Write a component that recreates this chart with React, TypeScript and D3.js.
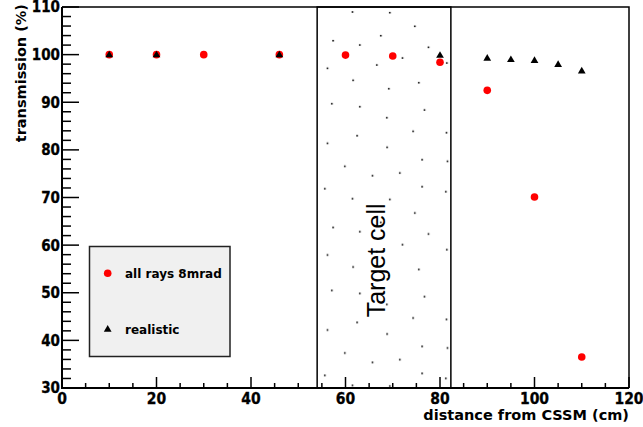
import React, { useRef, useEffect } from 'react';
import * as d3 from 'd3';

// all rays 8mrad (red circles)
const allRaysX = [10, 20, 30, 46, 60, 70, 80, 90, 100, 110];
const allRaysY = [100, 100, 100, 100, 99.9, 99.7, 98.4, 92.5, 70.1, 36.5];

// realistic (black triangles)
const realisticX = [10, 20, 46, 80, 90, 95, 100, 105, 110];
const realisticY = [100, 100, 100, 99.9, 99.3, 99.0, 98.8, 98.0, 96.6];

const xTicks = [0, 20, 40, 60, 80, 100, 120];
const yTicks = [30, 40, 50, 60, 70, 80, 90, 100, 110];
const targetCell = [54, 82.3];

// dot fill pattern of the target cell, one tile (px)
const patternDots: [number, number][] = [
  [35.4, 5], [72.7, 5.7], [97.7, 19.3], [63.7, 28.7], [16, 33.7], [42.7, 38],
  [111.4, 40.3], [85.4, 51], [129.7, 56], [59.7, 58], [10.4, 61.3], [36, 73.3],
  [101.7, 75.7], [71.7, 81.7], [14.7, 96.7], [42.7, 99.7], [107.4, 103],
  [69.7, 110.7], [96, 124.3], [129.4, 125.7], [40, 128.7], [10.4, 136.3],
  [70, 140.3], [105, 152.7], [130.4, 154.3], [27.7, 159.3], [82.7, 166],
  [55.4, 168.7], [105, 179.7], [7.7, 181.7], [128.7, 184.7],
];

const W = 643;
const H = 427;
const FONT = "'DejaVu Sans', sans-serif";
const TICK_FONT = "'DejaVu Sans Condensed', 'DejaVu Sans', sans-serif";

export default function App() {
  const svgRef = useRef<SVGSVGElement>(null);

  useEffect(() => {
    const svg = d3.select(svgRef.current);
    svg.selectAll('*').remove();

    const x = d3.scaleLinear().domain([0, 120]).range([62, 629]);
    const y = d3.scaleLinear().domain([30, 110]).range([388, 7]);

    svg.append('rect').attr('width', W).attr('height', H).attr('fill', 'white');

    // pattern for target cell
    const x0 = x(targetCell[0]);
    const x1 = x(targetCell[1]);
    const pat = svg.append('defs').append('pattern')
      .attr('id', 'dots')
      .attr('patternUnits', 'userSpaceOnUse')
      .attr('x', x0).attr('y', y(110))
      .attr('width', 200).attr('height', 186.7);
    pat.selectAll('rect')
      .data(patternDots)
      .join('rect')
      .attr('x', d => d[0] - 0.8)
      .attr('y', d => d[1] - 0.8)
      .attr('width', 1.6).attr('height', 1.6)
      .attr('fill', '#000');

    svg.append('rect')
      .attr('x', x0).attr('y', y(110))
      .attr('width', x1 - x0).attr('height', y(30) - y(110))
      .attr('fill', 'url(#dots)')
      .attr('stroke', '#000')
      .attr('stroke-width', 1.5);

    svg.append('text')
      .attr('transform', `translate(385,${y(56.8)}) rotate(-90)`)
      .attr('text-anchor', 'middle')
      .attr('font-family', "'Liberation Sans', Arial, sans-serif")
      .attr('font-size', 25)
      .attr('fill', '#000')
      .text('Target cell');

    // frame top & right
    svg.append('path')
      .attr('d', `M${x(0)},${y(110)}H${x(120)}V${y(30)}`)
      .attr('fill', 'none')
      .attr('stroke', '#000')
      .attr('stroke-width', 1.5);

    // y ticks
    const yMinor = d3.range(30, 110.01, 2);
    svg.append('g').selectAll('line')
      .data(yMinor)
      .join('line')
      .attr('x1', x(0))
      .attr('x2', d => x(0) + (d % 10 === 0 ? 17 : 9))
      .attr('y1', d => y(d)).attr('y2', d => y(d))
      .attr('stroke', '#000').attr('stroke-width', 1.5);

    // x ticks
    const xMinor = d3.range(0, 120.01, 5);
    svg.append('g').selectAll('line')
      .data(xMinor)
      .join('line')
      .attr('x1', d => x(d)).attr('x2', d => x(d))
      .attr('y1', y(30))
      .attr('y2', d => y(30) - (d % 20 === 0 ? 11 : 5))
      .attr('stroke', '#000').attr('stroke-width', 1.5);

    // axis lines
    svg.append('path')
      .attr('d', `M${x(0)},${y(110)}V${y(30)}H${x(120)}`)
      .attr('fill', 'none')
      .attr('stroke', '#000')
      .attr('stroke-width', 2);

    // tick labels
    svg.append('g').selectAll('text')
      .data(yTicks)
      .join('text')
      .attr('x', 60)
      .attr('y', d => y(d))
      .attr('dy', '0.36em')
      .attr('text-anchor', 'end')
      .attr('font-family', TICK_FONT)
      .attr('font-weight', 'bold')
      .attr('font-size', 15)
      .attr('stroke', '#000')
      .attr('stroke-width', 0.3)
      .text(d => d);

    svg.append('g').selectAll('text')
      .data(xTicks)
      .join('text')
      .attr('x', d => x(d))
      .attr('y', 404)
      .attr('text-anchor', 'middle')
      .attr('font-family', TICK_FONT)
      .attr('font-weight', 'bold')
      .attr('font-size', 15.5)
      .attr('stroke', '#000')
      .attr('stroke-width', 0.3)
      .text(d => d);

    // axis titles
    svg.append('text')
      .attr('transform', `translate(26,4) rotate(-90)`)
      .attr('text-anchor', 'end')
      .attr('font-family', FONT)
      .attr('font-weight', 'bold')
      .attr('font-size', 14.5)
      .text('transmission (%)');

    svg.append('text')
      .attr('x', 629)
      .attr('y', 419.5)
      .attr('text-anchor', 'end')
      .attr('font-family', FONT)
      .attr('font-weight', 'bold')
      .attr('font-size', 14.5)
      .text('distance from CSSM (cm)');

    // markers
    const tri = d3.symbol().type(d3.symbolTriangle).size(26);

    svg.append('g').selectAll('circle')
      .data(allRaysX.map((d, i) => [d, allRaysY[i]]))
      .join('circle')
      .attr('cx', d => x(d[0]))
      .attr('cy', d => y(d[1]))
      .attr('r', 3.8)
      .attr('fill', '#ff0000');

    svg.append('g').selectAll('path')
      .data(realisticX.map((d, i) => [d, realisticY[i]]))
      .join('path')
      .attr('d', tri)
      .attr('transform', d => `translate(${x(d[0])},${y(d[1]) + 0.5})`)
      .attr('fill', '#000');

    // legend
    const lg = svg.append('g');
    lg.append('rect')
      .attr('x', 89.5).attr('y', 246.5)
      .attr('width', 140.5).attr('height', 110)
      .attr('fill', '#f0f0f0')
      .attr('stroke', '#222')
      .attr('stroke-width', 1.5);
    lg.append('circle')
      .attr('cx', 107.7).attr('cy', 273.3).attr('r', 3.8)
      .attr('fill', '#ff0000');
    lg.append('path')
      .attr('d', tri)
      .attr('transform', 'translate(107.7,329.5)')
      .attr('fill', '#000');
    lg.selectAll('text')
      .data(['all rays 8mrad', 'realistic'])
      .join('text')
      .attr('x', 125)
      .attr('y', (d, i) => (i === 0 ? 277.8 : 334))
      .attr('font-family', FONT)
      .attr('font-weight', 'bold')
      .attr('font-size', 12)
      .text(d => d);
  }, []);

  return (
    <svg
      ref={svgRef}
      width={W}
      height={H}
      style={{ position: 'absolute', left: 0, top: 0, display: 'block' }}
    />
  );
}
